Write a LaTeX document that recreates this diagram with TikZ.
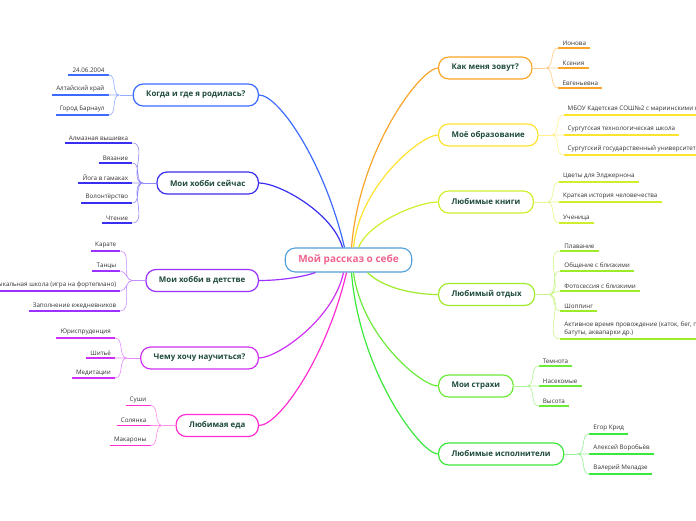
\documentclass[tikz,border=0pt]{standalone}
\usepackage{fontspec}
\setmainfont{Open Sans}
\usetikzlibrary{positioning}
\definecolor{skyblue}{HTML}{3D6BFF}
\definecolor{royal}{HTML}{3A2EF0}
\definecolor{grape}{HTML}{9B30FF}
\definecolor{orchid}{HTML}{D030F5}
\definecolor{candy}{RGB}{255,45,210}
\definecolor{tangerine}{HTML}{F9A52A}
\definecolor{lemon}{HTML}{FFE32E}
\definecolor{chartreuse}{HTML}{D0EE2C}
\definecolor{lime}{HTML}{9EEB2A}
\definecolor{grass}{HTML}{6CEB3A}
\definecolor{kelly}{HTML}{3BE83B}
\definecolor{cornflower}{HTML}{4F9FDA}
\definecolor{rosepink}{HTML}{F0648C}
\definecolor{inkgreen}{HTML}{1E4B3B}
\definecolor{leafink}{HTML}{333333}

\begin{document}
\begin{tikzpicture}[x=1pt,y=1pt,
  hub/.style={draw=cornflower, fill=white, line width=1.1pt, rounded corners=10pt, minimum height=24pt, inner xsep=13pt, font=\fontsize{10}{12}\selectfont\bfseries, text=rosepink},
  topic/.style={draw=#1, fill=white, line width=1.2pt, rounded corners=10pt, minimum height=22pt, inner xsep=13pt, font=\fontsize{7.9}{9}\selectfont\bfseries, text=inkgreen},
  leaf/.style={font=\fontsize{6.25}{8.5}\selectfont, text=leafink, inner xsep=4pt, inner ysep=2.5pt},
  uline/.style={draw=#1, line width=1.8pt},
  branch/.style={draw=#1, line width=1.2pt},
  twig/.style={draw=#1!55, line width=0.6pt}]
\useasboundingbox (0,0) rectangle (696,520);

\node[hub] (me) at (348.5,260) {Мой рассказ о себе};

% topics, left side
\node[topic=skyblue, anchor=east] (born) at (259,425) {Когда и где я родилась?};
\node[topic=royal, anchor=east] (hobbynow) at (259,337) {Мои хобби сейчас};
\node[topic=grape, anchor=east] (hobbykid) at (259,239.5) {Мои хобби в детстве};
\node[topic=orchid, anchor=east] (learn) at (259,162) {Чему хочу научиться?};
\node[topic=candy, anchor=east] (food) at (259,94.5) {Любимая еда};
% topics, right side
\node[topic=tangerine, anchor=west] (name) at (438,452) {Как меня зовут?};
\node[topic=lemon, anchor=west] (school) at (438,385) {Моё образование};
\node[topic=chartreuse, anchor=west] (books) at (438,318) {Любимые книги};
\node[topic=lime, anchor=west] (rest) at (438,225.5) {Любимый отдых};
\node[topic=grass, anchor=west] (fears) at (438,134) {Мои страхи};
\node[topic=kelly, anchor=west] (singers) at (438,66) {Любимые исполнители};

% hub to topics
\draw[branch=skyblue] ([xshift=-4pt]me.north) .. controls +(-20,85) and +(20,0) .. (born.east);
\draw[branch=royal] ([xshift=-6pt]me.north) .. controls +(-10,35) and +(20,0) .. (hobbynow.east);
\draw[branch=grape] ([xshift=-33pt]me.south) .. controls +(-15,-5) and +(20,0) .. (hobbykid.east);
\draw[branch=orchid] ([xshift=-5pt]me.south) .. controls +(-10,-47) and +(18,0) .. (learn.east);
\draw[branch=candy] ([xshift=-2pt]me.south) .. controls +(-20,-85) and +(20,0) .. (food.east);
\draw[branch=tangerine] ([xshift=3pt]me.north) .. controls +(8,99) and +(-17,0) .. (name.west);
\draw[branch=lemon] ([xshift=5pt]me.north) .. controls +(6,62) and +(-17,0) .. (school.west);
\draw[branch=chartreuse] ([xshift=10pt]me.north) .. controls +(10,25) and +(-20,0) .. (books.west);
\draw[branch=lime] ([xshift=19pt]me.south) .. controls +(15,-15) and +(-25,0) .. (rest.west);
\draw[branch=grass] ([xshift=5pt]me.south) .. controls +(8,-63) and +(-17,0) .. (fears.west);
\draw[branch=kelly] ([xshift=3pt]me.south) .. controls +(8,-100) and +(-17,0) .. (singers.west);

% born
\node[leaf, anchor=south east] (born1) at ([xshift=-24pt,yshift=20pt]born.west) {24.06.2004};
\node[leaf, anchor=south east] (born2) at ([xshift=-24pt]born.west) {Алтайский край};
\node[leaf, anchor=south east] (born3) at ([xshift=-24pt,yshift=-20pt]born.west) {Город Барнаул};
\draw[uline=skyblue] (born1.south west) -- (born1.south east) (born2.south west) -- (born2.south east) (born3.south west) -- (born3.south east);
\draw[twig=skyblue] (born.west) -- ++(-13,0) coordinate (bornj);
\draw[twig=skyblue] (bornj) to[out=180,in=0] (born1.south east) (bornj) to[out=180,in=0] (born2.south east) (bornj) to[out=180,in=0] (born3.south east);

% hobbies now
\node[leaf, anchor=south east] (now1) at ([xshift=-24pt,yshift=40pt]hobbynow.west) {Алмазная вышивка};
\node[leaf, anchor=south east] (now2) at ([xshift=-24pt,yshift=20pt]hobbynow.west) {Вязание};
\node[leaf, anchor=south east] (now3) at ([xshift=-24pt]hobbynow.west) {Йога в гамаках};
\node[leaf, anchor=south east] (now4) at ([xshift=-24pt,yshift=-20pt]hobbynow.west) {Волонтёрство};
\node[leaf, anchor=south east] (now5) at ([xshift=-24pt,yshift=-40pt]hobbynow.west) {Чтение};
\draw[uline=royal] (now1.south west) -- (now1.south east) (now2.south west) -- (now2.south east) (now3.south west) -- (now3.south east) (now4.south west) -- (now4.south east) (now5.south west) -- (now5.south east);
\draw[twig=royal] (hobbynow.west) -- ++(-13,0) coordinate (nowj);
\draw[twig=royal] (nowj) to[out=180,in=0] (now1.south east) (nowj) to[out=180,in=0] (now2.south east) (nowj) to[out=180,in=0] (now3.south east) (nowj) to[out=180,in=0] (now4.south east) (nowj) to[out=180,in=0] (now5.south east);

% hobbies as a child
\node[leaf, anchor=south east] (kid1) at ([xshift=-25pt,yshift=29.5pt]hobbykid.west) {Карате};
\node[leaf, anchor=south east] (kid2) at ([xshift=-25pt,yshift=9.5pt]hobbykid.west) {Танцы};
\node[leaf, anchor=south east] (kid3) at ([xshift=-25pt,yshift=-10.5pt]hobbykid.west) {Музыкальная школа (игра на фортепиано)};
\node[leaf, anchor=south east] (kid4) at ([xshift=-25pt,yshift=-30.5pt]hobbykid.west) {Заполнение ежедневников};
\draw[uline=grape] (kid1.south west) -- (kid1.south east) (kid2.south west) -- (kid2.south east) (kid3.south west) -- (kid3.south east) (kid4.south west) -- (kid4.south east);
\draw[twig=grape] (hobbykid.west) -- ++(-13,0) coordinate (kidj);
\draw[twig=grape] (kidj) to[out=180,in=0] (kid1.south east) (kidj) to[out=180,in=0] (kid2.south east) (kidj) to[out=180,in=0] (kid3.south east) (kidj) to[out=180,in=0] (kid4.south east);

% learn
\node[leaf, anchor=south east] (learn1) at ([xshift=-25pt,yshift=20pt]learn.west) {Юриспруденция};
\node[leaf, anchor=south east] (learn2) at ([xshift=-25pt]learn.west) {Шитьё};
\node[leaf, anchor=south east] (learn3) at ([xshift=-25pt,yshift=-20pt]learn.west) {Медитации};
\draw[uline=orchid] (learn1.south west) -- (learn1.south east) (learn2.south west) -- (learn2.south east) (learn3.south west) -- (learn3.south east);
\draw[twig=orchid] (learn.west) -- ++(-13,0) coordinate (learnj);
\draw[twig=orchid] (learnj) to[out=180,in=0] (learn1.south east) (learnj) to[out=180,in=0] (learn2.south east) (learnj) to[out=180,in=0] (learn3.south east);

% food
\node[leaf, anchor=south east] (food1) at ([xshift=-25pt,yshift=20pt]food.west) {Суши};
\node[leaf, anchor=south east] (food2) at ([xshift=-25pt]food.west) {Солянка};
\node[leaf, anchor=south east] (food3) at ([xshift=-25pt,yshift=-20pt]food.west) {Макароны};
\draw[uline=candy] (food1.south west) -- (food1.south east) (food2.south west) -- (food2.south east) (food3.south west) -- (food3.south east);
\draw[twig=candy] (food.west) -- ++(-13,0) coordinate (foodj);
\draw[twig=candy] (foodj) to[out=180,in=0] (food1.south east) (foodj) to[out=180,in=0] (food2.south east) (foodj) to[out=180,in=0] (food3.south east);

% name
\node[leaf, anchor=south west] (name1) at ([xshift=26pt,yshift=20pt]name.east) {Ионова};
\node[leaf, anchor=south west] (name2) at ([xshift=26pt]name.east) {Ксения};
\node[leaf, anchor=south west] (name3) at ([xshift=26pt,yshift=-20pt]name.east) {Евгеньевна};
\draw[uline=tangerine] (name1.south west) -- (name1.south east) (name2.south west) -- (name2.south east) (name3.south west) -- (name3.south east);
\draw[twig=tangerine] (name.east) -- ++(13,0) coordinate (namej);
\draw[twig=tangerine] (namej) to[out=0,in=180] (name1.south west) (namej) to[out=0,in=180] (name2.south west) (namej) to[out=0,in=180] (name3.south west);

% school
\node[leaf, anchor=south west] (school1) at ([xshift=25pt,yshift=20pt]school.east) {МБОУ Кадетская СОШ№2 с мариинскими к};
\node[leaf, anchor=south west] (school2) at ([xshift=25pt]school.east) {Сургутская технологическая школа};
\node[leaf, anchor=south west] (school3) at ([xshift=25pt,yshift=-20pt]school.east) {Сургутский государственный университет};
\draw[uline=lemon] (school1.south west) -- (school1.south east) (school2.south west) -- (school2.south east) (school3.south west) -- (school3.south east);
\draw[twig=lemon] (school.east) -- ++(13,0) coordinate (schoolj);
\draw[twig=lemon] (schoolj) to[out=0,in=180] (school1.south west) (schoolj) to[out=0,in=180] (school2.south west) (schoolj) to[out=0,in=180] (school3.south west);

% books
\node[leaf, anchor=south west] (book1) at ([xshift=25pt,yshift=20pt]books.east) {Цветы для Элджернона};
\node[leaf, anchor=south west] (book2) at ([xshift=25pt]books.east) {Краткая история человечества};
\node[leaf, anchor=south west] (book3) at ([xshift=25pt,yshift=-21pt]books.east) {Ученица};
\draw[uline=chartreuse] (book1.south west) -- (book1.south east) (book2.south west) -- (book2.south east) (book3.south west) -- (book3.south east);
\draw[twig=chartreuse] (books.east) -- ++(13,0) coordinate (bookj);
\draw[twig=chartreuse] (bookj) to[out=0,in=180] (book1.south west) (bookj) to[out=0,in=180] (book2.south west) (bookj) to[out=0,in=180] (book3.south west);

% rest
\node[leaf, anchor=south west] (rest1) at ([xshift=25pt,yshift=43.5pt]rest.east) {Плавание};
\node[leaf, anchor=south west] (rest2) at ([xshift=25pt,yshift=23.5pt]rest.east) {Общение с близкими};
\node[leaf, anchor=south west] (rest3) at ([xshift=25pt,yshift=3.5pt]rest.east) {Фотосессия с близкими};
\node[leaf, anchor=south west] (rest4) at ([xshift=25pt,yshift=-16.5pt]rest.east) {Шоппинг};
\node[leaf, anchor=south west, align=left] (rest5) at ([xshift=25pt,yshift=-44.5pt]rest.east) {Активное время провождение (каток, бег, пр\\батуты, аквапарки др.)};
\draw[uline=lime] (rest1.south west) -- (rest1.south east) (rest2.south west) -- (rest2.south east) (rest3.south west) -- (rest3.south east) (rest4.south west) -- (rest4.south east) (rest5.south west) -- (rest5.south east);
\draw[twig=lime] (rest.east) -- ++(13,0) coordinate (restj);
\draw[twig=lime] (restj) to[out=0,in=180] (rest1.south west) (restj) to[out=0,in=180] (rest2.south west) (restj) to[out=0,in=180] (rest3.south west) (restj) to[out=0,in=180] (rest4.south west) (restj) to[out=0,in=180] (rest5.south west);

% fears
\node[leaf, anchor=south west] (fear1) at ([xshift=25pt,yshift=20pt]fears.east) {Темнота};
\node[leaf, anchor=south west] (fear2) at ([xshift=25pt]fears.east) {Насекомые};
\node[leaf, anchor=south west] (fear3) at ([xshift=25pt,yshift=-20pt]fears.east) {Высота};
\draw[uline=grass] (fear1.south west) -- (fear1.south east) (fear2.south west) -- (fear2.south east) (fear3.south west) -- (fear3.south east);
\draw[twig=grass] (fears.east) -- ++(13,0) coordinate (fearj);
\draw[twig=grass] (fearj) to[out=0,in=180] (fear1.south west) (fearj) to[out=0,in=180] (fear2.south west) (fearj) to[out=0,in=180] (fear3.south west);

% singers
\node[leaf, anchor=south west] (sing1) at ([xshift=25pt,yshift=20pt]singers.east) {Егор Крид};
\node[leaf, anchor=south west] (sing2) at ([xshift=25pt]singers.east) {Алексей Воробьёв};
\node[leaf, anchor=south west] (sing3) at ([xshift=25pt,yshift=-20pt]singers.east) {Валерий Меладзе};
\draw[uline=kelly] (sing1.south west) -- (sing1.south east) (sing2.south west) -- (sing2.south east) (sing3.south west) -- (sing3.south east);
\draw[twig=kelly] (singers.east) -- ++(13,0) coordinate (singj);
\draw[twig=kelly] (singj) to[out=0,in=180] (sing1.south west) (singj) to[out=0,in=180] (sing2.south west) (singj) to[out=0,in=180] (sing3.south west);
\end{tikzpicture}
\end{document}
